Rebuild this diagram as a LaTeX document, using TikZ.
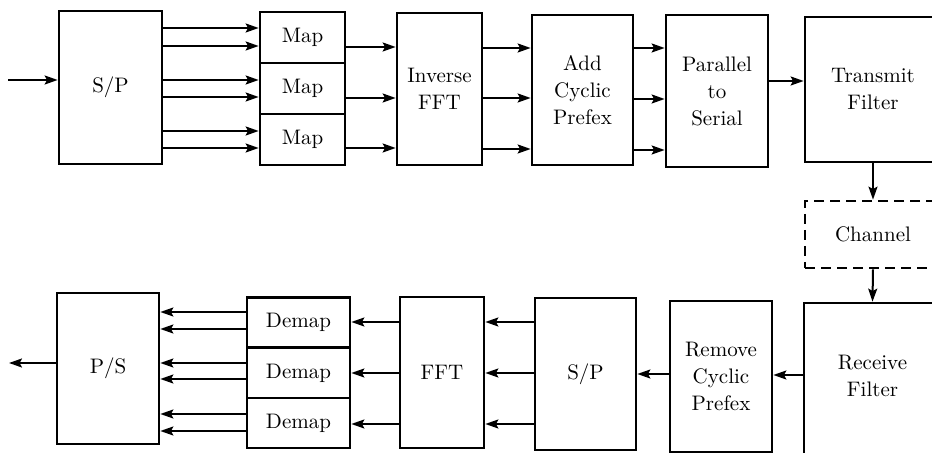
\documentclass[tikz,border=0pt]{standalone}
\usepackage{tikz}
\usetikzlibrary{arrows.meta, positioning, calc}

\begin{document}
\begin{tikzpicture}[x=0.5pt, y=-0.5pt,
    blk/.style={draw, line width=1.35pt, align=center, inner sep=0pt,
                font=\fontsize{10.5}{13.5}\selectfont},
    blkdash/.style={blk, dash pattern=on 5pt off 3pt},
    arr/.style={line width=1pt, -{Stealth[length=6.5pt, width=4.5pt, inset=1.2pt]}}]
  \clip (0,0) rectangle (932,453);

  %% --- Transmitter row ---
  \coordinate (in) at (8,80);
  \node[blk, minimum width=51.5pt, minimum height=76.5pt] (sp1) at (110.5,87.5) {S/P};
  \foreach \i/\yc in {1/37.5, 2/88.5, 3/139.5}
    \node[blk, minimum width=42.5pt, minimum height=25.5pt] (map\i) at (302.5,\yc) {Map};
  \node[blk, minimum width=42.5pt, minimum height=76pt] (ifft) at (439.5,89) {Inverse\\FFT};
  \node[blk, minimum width=50.5pt, minimum height=75pt] (addcp) at (582.5,90) {Add\\Cyclic\\Prefex};
  \node[blk, minimum width=51pt, minimum height=76pt] (ps1) at (717,91) {Parallel\\to\\Serial};
  \node[blk, minimum width=68pt, minimum height=72.5pt] (tx) at (873,89.5) {Transmit\\Filter};

  %% --- Channel ---
  \node[blkdash, minimum width=68pt, minimum height=33.5pt] (chan) at (873,234.5) {Channel};

  %% --- Receiver row ---
  \node[blk, minimum width=68.5pt, minimum height=78.5pt, text depth=6pt] (rx) at (872.5,381.5) {Receive\\Filter};
  \node[blk, minimum width=51pt, minimum height=75.5pt] (rmcp) at (721,376.5) {Remove\\Cyclic\\Prefex};
  \node[blk, minimum width=50.5pt, minimum height=76pt] (sp2) at (585.5,374) {S/P};
  \node[blk, minimum width=42pt, minimum height=75.5pt] (fft) at (442,372.5) {FFT};
  \foreach \i/\yc in {1/322.5, 2/373, 3/423}
    \node[blk, minimum width=51.5pt, minimum height=25pt] (demap\i) at (298.5,\yc) {Demap};
  \node[blk, minimum width=51pt, minimum height=75.5pt] (ps2) at (108,368.5) {P/S};
  \coordinate (out) at (9,363);

  %% --- connectors, transmitter ---
  \draw[arr] (in) -- (in -| sp1.west);
  \foreach \i/\ya/\yb in {1/28/46, 2/80/97, 3/131/148} {
    \draw[arr] (sp1.east |- 0,\ya) -- (map\i.west |- 0,\ya);
    \draw[arr] (sp1.east |- 0,\yb) -- (map\i.west |- 0,\yb);
  }
  \foreach \i/\y in {1/47, 2/98, 3/148}
    \draw[arr] (map\i.east |- 0,\y) -- (ifft.west |- 0,\y);
  \foreach \y in {48, 98, 149}
    \draw[arr] (ifft.east |- 0,\y) -- (addcp.west |- 0,\y);
  \foreach \y in {48, 99, 150}
    \draw[arr] (addcp.east |- 0,\y) -- (ps1.west |- 0,\y);
  \draw[arr] (ps1.east |- 0,81) -- (tx.west |- 0,81);
  \draw[arr] (tx.south) -- (chan.north);
  \draw[arr] (chan.south) -- (rx.north);

  %% --- connectors, receiver ---
  \draw[arr] (rx.west |- 0,375) -- (rmcp.east |- 0,375);
  \draw[arr] (rmcp.west |- 0,374) -- (sp2.east |- 0,374);
  \foreach \y in {322, 373, 424}
    \draw[arr] (sp2.west |- 0,\y) -- (fft.east |- 0,\y);
  \foreach \i/\y in {1/322, 2/373, 3/424}
    \draw[arr] (fft.west |- 0,\y) -- (demap\i.east |- 0,\y);
  \foreach \i/\ya/\yb in {1/312/329, 2/363/379, 3/414/431} {
    \draw[arr] (demap\i.west |- 0,\ya) -- (ps2.east |- 0,\ya);
    \draw[arr] (demap\i.west |- 0,\yb) -- (ps2.east |- 0,\yb);
  }
  \draw[arr] (ps2.west |- out) -- (out);
\end{tikzpicture}
\end{document}
